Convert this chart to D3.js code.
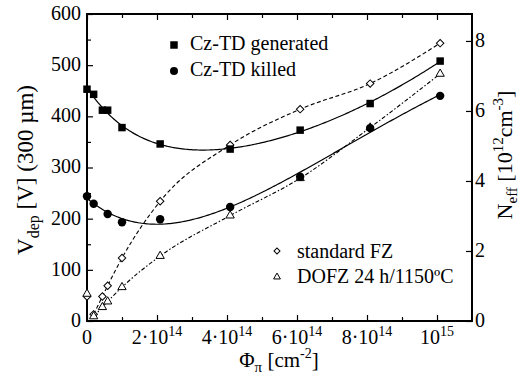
<!DOCTYPE html>
<html>
<head>
<meta charset="utf-8">
<script src="https://cdn.jsdelivr.net/npm/d3@7"></script>
<style>
html,body{margin:0;padding:0;background:#fff;}
text, tspan { font-family: "Liberation Serif", "DejaVu Serif", serif !important; }
</style>
</head>
<body>
<svg id="chart" width="524" height="377"></svg>
<script>
// ---------- data (fluence in units of 1e14 cm^-2) ----------
const fluence       = [0, 0.19, 0.44, 0.59, 1.0, 2.09, 4.09, 6.09, 8.09, 10.09];
const czGenerated   = [453, 443, 412, 412, 378, 346, 336, 373, 425, 508];
const fluenceKilled = [0, 0.19, 0.59, 1.0, 2.09, 4.09, 6.09, 8.09, 10.09];
const czKilled      = [244, 229, 209, 193, 199, 223, 282, 377, 440];
const standardFZ    = [48, 13, 48, 69, 123, 234, 344, 414, 464, 543];
const dofz          = [53, 9, 27, 38, 66, 127, 206, 279, 378, 483];

const leftTicks   = [0, 100, 200, 300, 400, 500, 600];
const leftMinor   = [50, 150, 250, 350, 450, 550];
const rightTicks  = [0, 2, 4, 6, 8];
const xMajor      = [0, 2, 4, 6, 8, 10];
const xMinor      = [1, 3, 5, 7, 9];
const xTickMant   = ["0", "2·10", "4·10", "6·10", "8·10", "10"];
const xTickExp    = ["", "14", "14", "14", "14", "15"];
const neffMax     = 8.77;   // right axis top (10^12 cm^-3)

const FONT = "Liberation Serif";

// ---------- layout ----------
const svg = d3.select("#chart");
const L = 87, R = 472, T = 14, B = 321;
const x  = d3.scaleLinear().domain([0, 11]).range([L, R]);
const y  = d3.scaleLinear().domain([0, 600]).range([B, T]);
const yR = d3.scaleLinear().domain([0, neffMax]).range([B, T]);

// ---------- fit: A*exp(-kx) + B + g*x + h*x^2 (least squares, grid over k) ----------
function solve(M, v) {
  const n = v.length;
  const A = M.map((r, i) => r.concat([v[i]]));
  for (let c = 0; c < n; c++) {
    let p = c;
    for (let r = c + 1; r < n; r++) if (Math.abs(A[r][c]) > Math.abs(A[p][c])) p = r;
    [A[c], A[p]] = [A[p], A[c]];
    for (let r = c + 1; r < n; r++) {
      const f = A[r][c] / A[c][c];
      for (let k = c; k <= n; k++) A[r][k] -= f * A[c][k];
    }
  }
  const s = new Array(n).fill(0);
  for (let r = n - 1; r >= 0; r--) {
    let t = A[r][n];
    for (let k = r + 1; k < n; k++) t -= A[r][k] * s[k];
    s[r] = t / A[r][r];
  }
  return s;
}
function fit(xs, ys) {
  let best = null;
  for (let k = 0.3; k <= 5; k += 0.01) {
    const basis = t => [Math.exp(-k * t), 1, t, t * t];
    const M = [[0,0,0,0],[0,0,0,0],[0,0,0,0],[0,0,0,0]], v = [0,0,0,0];
    xs.forEach((t, i) => {
      const b = basis(t);
      for (let r = 0; r < 4; r++) { v[r] += b[r] * ys[i]; for (let c = 0; c < 4; c++) M[r][c] += b[r] * b[c]; }
    });
    const co = solve(M, v);
    if (co.some(c => !isFinite(c))) continue;
    const f = t => basis(t).reduce((s, b, i) => s + b * co[i], 0);
    const res = xs.reduce((s, t, i) => s + (f(t) - ys[i]) ** 2, 0);
    if (!best || res < best.res) best = { res, f };
  }
  return best.f;
}

// ---------- frame & axes ----------
function styleAxis(g) {
  g.attr("font-family", null);
  g.select(".domain").remove();
  g.selectAll(".tick line").attr("stroke", "#000").attr("stroke-width", 1.2);
}
svg.append("g").attr("transform", `translate(${L},0)`)
  .call(d3.axisLeft(y).tickValues(leftTicks).tickSizeInner(-6).tickSizeOuter(0).tickPadding(6))
  .call(styleAxis)
  .call(g => g.attr("font-size", 20).selectAll(".tick text").attr("dy", "0.27em").attr("fill", "#000"));
svg.append("g").attr("transform", `translate(${L},0)`)
  .call(d3.axisLeft(y).tickValues(leftMinor).tickSizeInner(-4).tickSizeOuter(0).tickFormat(""))
  .call(styleAxis);
svg.append("g").attr("transform", `translate(${R},0)`)
  .call(d3.axisRight(yR).tickValues(rightTicks).tickSizeInner(-6).tickSizeOuter(0).tickPadding(3))
  .call(styleAxis)
  .call(g => g.attr("font-size", 20).selectAll(".tick text").attr("dy", "0.27em").attr("fill", "#000"));
svg.append("g").attr("transform", `translate(0,${B})`)
  .call(d3.axisBottom(x).tickValues(xMajor).tickSizeInner(-6).tickSizeOuter(0).tickFormat(""))
  .call(styleAxis);
svg.append("g").attr("transform", `translate(0,${B})`)
  .call(d3.axisBottom(x).tickValues(xMinor).tickSizeInner(-4).tickSizeOuter(0).tickFormat(""))
  .call(styleAxis);
svg.append("g").attr("transform", `translate(0,${T})`)
  .call(d3.axisTop(x).tickValues(xMajor).tickSizeInner(-6).tickSizeOuter(0).tickFormat(""))
  .call(styleAxis);
svg.append("g").attr("transform", `translate(0,${T})`)
  .call(d3.axisTop(x).tickValues(xMinor).tickSizeInner(-4).tickSizeOuter(0).tickFormat(""))
  .call(styleAxis);

svg.append("rect").attr("x", L).attr("y", T).attr("width", R - L).attr("height", B - T)
  .attr("fill", "none").attr("stroke", "#000").attr("stroke-width", 2);

// x tick labels with superscripts
xMajor.forEach((v, i) => {
  const t = svg.append("text").attr("x", x(v)).attr("y", 343.5)
    .attr("text-anchor", "middle").attr("font-size", 20);
  t.append("tspan").text(xTickMant[i]);
  if (xTickExp[i]) t.append("tspan").attr("dy", -8).attr("font-size", 14).text(xTickExp[i]);
});

// axis titles
const xt = svg.append("text").attr("x", 279).attr("y", 367).attr("text-anchor", "middle").attr("font-size", 21);
xt.append("tspan").text("Φ");
xt.append("tspan").attr("font-size", 15).attr("dy", 5).text("π");
xt.append("tspan").attr("dy", -5).text(" [cm");
xt.append("tspan").attr("font-size", 14).attr("dy", -9).text("-2");
xt.append("tspan").attr("dy", 9).text("]");

const yl = svg.append("text").attr("transform", "translate(33,170) rotate(-90)")
  .attr("text-anchor", "middle").attr("font-size", 23);
yl.append("tspan").text("V");
yl.append("tspan").attr("font-size", 16).attr("dy", 6).text("dep");
yl.append("tspan").attr("dy", -6).text(" [V] (300 µm)");

const yr = svg.append("text").attr("transform", "translate(512,155) rotate(-90)")
  .attr("text-anchor", "middle").attr("font-size", 22);
yr.append("tspan").text("N");
yr.append("tspan").attr("font-size", 15).attr("dy", 5).text("eff");
yr.append("tspan").attr("dy", -5).text(" [10");
yr.append("tspan").attr("font-size", 15).attr("dy", -9).text("12");
yr.append("tspan").attr("dy", 9).text("cm");
yr.append("tspan").attr("font-size", 15).attr("dy", -9).text("-3");
yr.append("tspan").attr("dy", 9).text("]");

// ---------- lines ----------
const plot = svg.append("g");
function fitLine(xs, ys) {
  const f = fit(xs, ys);
  const xmax = d3.max(xs);
  const pts = d3.range(0, 201).map(i => { const t = xmax * i / 200; return [t, f(t)]; });
  plot.append("path").datum(pts)
    .attr("d", d3.line().x(d => x(d[0])).y(d => y(d[1])))
    .attr("fill", "none").attr("stroke", "#000").attr("stroke-width", 1.2);
}
fitLine(fluence, czGenerated);
fitLine(fluenceKilled, czKilled);

function dataLine(xs, ys, dash) {
  const pts = xs.map((t, i) => [t, ys[i]]).slice(1);
  plot.append("path").datum(pts)
    .attr("d", d3.line().x(d => x(d[0])).y(d => y(d[1])).curve(d3.curveMonotoneX))
    .attr("fill", "none").attr("stroke", "#000").attr("stroke-width", 1.1)
    .attr("stroke-dasharray", dash);
}
dataLine(fluence, standardFZ, "4,2.5");
dataLine(fluence, dofz, "4,2,1.5,2");

// ---------- markers ----------
function markers(xs, ys, type, size, fill, rot) {
  plot.selectAll(null).data(xs.map((t, i) => [t, ys[i]])).enter().append("path")
    .attr("d", d3.symbol(type, size)())
    .attr("transform", d => `translate(${x(d[0])},${y(d[1])})` + (rot ? ` rotate(${rot})` : ""))
    .attr("fill", fill).attr("stroke", "#000").attr("stroke-width", fill === "#000" ? 0 : 1);
}
markers(fluence, standardFZ, d3.symbolSquare, 28, "#fff", 45);
markers(fluence, dofz, d3.symbolTriangle, 30, "#fff", 0);
markers(fluence, czGenerated, d3.symbolSquare, 56, "#000", 0);
markers(fluenceKilled, czKilled, d3.symbolCircle, 56, "#000", 0);

// ---------- legends ----------
const leg = [
  { sx: 174, sy: 45, type: d3.symbolSquare, size: 56, fill: "#000", rot: 0, tx: 190, ty: 50, label: "Cz-TD generated" },
  { sx: 174, sy: 71, type: d3.symbolCircle, size: 50, fill: "#000", rot: 0, tx: 190, ty: 76, label: "Cz-TD killed" },
  { sx: 277, sy: 251, type: d3.symbolSquare, size: 18, fill: "#fff", rot: 45, tx: 297, ty: 258, label: "standard FZ" },
  { sx: 277, sy: 277, type: d3.symbolTriangle, size: 20, fill: "#fff", rot: 0, tx: 297, ty: 283, label: "DOFZ 24 h/1150ºC" }
];
leg.forEach(l => {
  svg.append("path").attr("d", d3.symbol(l.type, l.size)())
    .attr("transform", `translate(${l.sx},${l.sy}) rotate(${l.rot})`)
    .attr("fill", l.fill).attr("stroke", "#000").attr("stroke-width", l.fill === "#000" ? 0 : 1);
  svg.append("text").attr("x", l.tx).attr("y", l.ty).attr("font-size", 20).text(l.label);
});
svg.selectAll("text, tspan").style("font-family", FONT);
</script>
</body>
</html>
